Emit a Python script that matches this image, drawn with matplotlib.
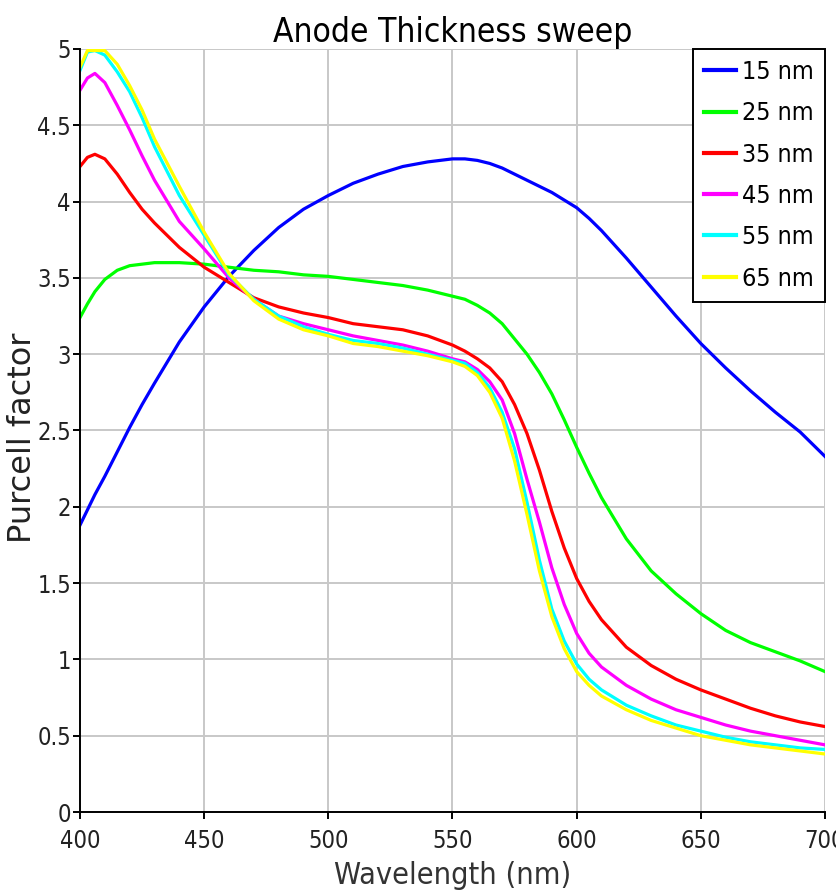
import matplotlib
matplotlib.use("Agg")
import matplotlib.pyplot as plt
from matplotlib import font_manager
from matplotlib.ticker import FuncFormatter

# wavelength samples (nm)
wavelength = [400, 403, 406, 410, 415, 420, 425, 430, 440, 450, 460, 470, 480, 490,
              500, 510, 520, 530, 540, 550, 555, 560, 565, 570, 575, 580, 585, 590,
              595, 600, 605, 610, 620, 630, 640, 650, 660, 670, 680, 690, 700]

pf_15 = [1.88, 1.98, 2.08, 2.20, 2.36, 2.52, 2.67, 2.81, 3.08, 3.31, 3.51, 3.68, 3.83, 3.95,
         4.04, 4.12, 4.18, 4.23, 4.26, 4.28, 4.28, 4.27, 4.25, 4.22, 4.18, 4.14, 4.10, 4.06,
         4.01, 3.96, 3.89, 3.81, 3.63, 3.44, 3.25, 3.07, 2.91, 2.76, 2.62, 2.49, 2.33]
pf_25 = [3.24, 3.33, 3.41, 3.49, 3.55, 3.58, 3.59, 3.60, 3.60, 3.59, 3.57, 3.55, 3.54, 3.52,
         3.51, 3.49, 3.47, 3.45, 3.42, 3.38, 3.36, 3.32, 3.27, 3.20, 3.10, 3.00, 2.88, 2.74,
         2.57, 2.39, 2.22, 2.06, 1.79, 1.58, 1.43, 1.30, 1.19, 1.11, 1.05, 0.99, 0.92]
pf_35 = [4.23, 4.29, 4.31, 4.28, 4.18, 4.06, 3.95, 3.86, 3.70, 3.57, 3.47, 3.37, 3.31, 3.27,
         3.24, 3.20, 3.18, 3.16, 3.12, 3.06, 3.02, 2.97, 2.91, 2.82, 2.67, 2.48, 2.24, 1.97,
         1.73, 1.53, 1.38, 1.26, 1.08, 0.96, 0.87, 0.80, 0.74, 0.68, 0.63, 0.59, 0.56]
pf_45 = [4.73, 4.81, 4.84, 4.78, 4.63, 4.47, 4.30, 4.14, 3.87, 3.69, 3.50, 3.36, 3.25, 3.20,
         3.16, 3.12, 3.09, 3.06, 3.02, 2.97, 2.95, 2.90, 2.82, 2.70, 2.48, 2.18, 1.90, 1.60,
         1.36, 1.17, 1.04, 0.95, 0.83, 0.74, 0.67, 0.62, 0.57, 0.53, 0.50, 0.47, 0.44]
pf_55 = [4.86, 4.98, 4.99, 4.96, 4.85, 4.72, 4.55, 4.36, 4.04, 3.78, 3.52, 3.36, 3.25, 3.18,
         3.13, 3.09, 3.07, 3.04, 3.00, 2.96, 2.94, 2.88, 2.78, 2.62, 2.38, 2.03, 1.65, 1.33,
         1.12, 0.97, 0.87, 0.80, 0.70, 0.63, 0.57, 0.53, 0.49, 0.46, 0.44, 0.42, 0.41]
pf_65 = [4.88, 4.99, 4.99, 4.99, 4.90, 4.76, 4.60, 4.41, 4.10, 3.80, 3.53, 3.35, 3.23, 3.16,
         3.12, 3.07, 3.05, 3.02, 2.99, 2.95, 2.92, 2.86, 2.75, 2.58, 2.30, 1.95, 1.58, 1.28,
         1.07, 0.92, 0.83, 0.76, 0.67, 0.60, 0.55, 0.50, 0.47, 0.44, 0.42, 0.40, 0.38]

labels = ["15 nm", "25 nm", "35 nm", "45 nm", "55 nm", "65 nm"]
colors = ["#0000ff", "#00ff00", "#ff0000", "#ff00ff", "#00ffff", "#ffff00"]
series = [pf_15, pf_25, pf_35, pf_45, pf_55, pf_65]

# the reference text is narrow, pick a narrow face if one is installed
names = {f.name for f in font_manager.fontManager.ttflist}
narrow = dict(family="DejaVu Sans")
if "Liberation Sans Narrow" in names:
    narrow = dict(family="Liberation Sans Narrow")
elif any(f.name == "DejaVu Sans" and f.stretch == "condensed"
         for f in font_manager.fontManager.ttflist):
    narrow = dict(family="DejaVu Sans", stretch="condensed")

fig = plt.figure(figsize=(8.37, 8.96), dpi=100)
ax = fig.add_axes([80 / 837, 84 / 896, 745 / 837, 763 / 896])

for y, c, lab in zip(series, colors, labels):
    ax.plot(wavelength, y, color=c, linewidth=2.3, label=lab)

ax.set_xlim(400, 700)
ax.set_ylim(0, 5)
ax.set_xticks(range(400, 701, 50))
ax.set_yticks([i * 0.5 for i in range(11)])
ax.yaxis.set_major_formatter(FuncFormatter(lambda v, p: f"{v:g}"))
ax.grid(True, color="#c8c8c8", linewidth=1.4)
ax.set_axisbelow(True)
for s in ["top", "right"]:
    ax.spines[s].set_visible(False)
for s in ["left", "bottom"]:
    ax.spines[s].set_linewidth(1.4)
ax.tick_params(direction="out", length=5, width=1.4)
ax.tick_params(axis="x", pad=7)
ax.tick_params(axis="y", pad=1.5)

for t in ax.get_xticklabels():
    t.set_fontsize(17)
    t.set_color("#222222")
    t.set(**narrow)
for t in ax.get_yticklabels():
    t.set_fontsize(17)
    t.set_color("#222222")
    t.set(**narrow)

ax.set_title("Anode Thickness sweep", fontsize=24, pad=5, **narrow)
ax.set_xlabel("Wavelength (nm)", fontsize=22, color="#333333", labelpad=6, **narrow)
ax.set_ylabel("Purcell factor", fontsize=23, color="#222222")
ax.yaxis.set_label_coords(-42 / 745, 0.49)

leg = ax.legend(loc="upper right", bbox_to_anchor=(1.0, 1.0), borderaxespad=0,
                fancybox=False, framealpha=1, edgecolor="black",
                prop=dict(size=18, **narrow), handlelength=1.25, handletextpad=0.25,
                labelspacing=0.69, borderpad=0.45)
leg.get_frame().set_linewidth(1.4)
for h in leg.get_lines():
    h.set_linewidth(3)

fig.savefig("out.png", dpi=100)
